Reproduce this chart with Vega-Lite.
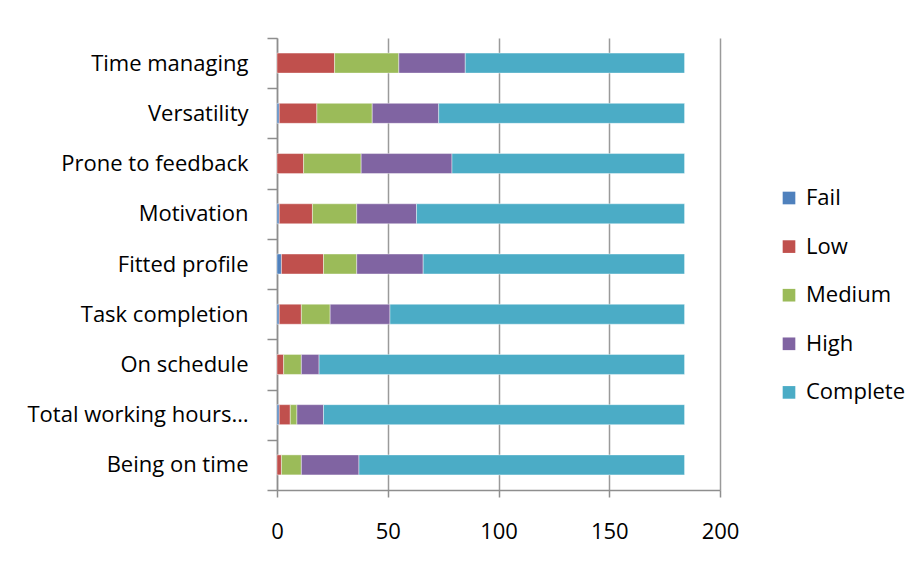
{
  "$schema": "https://vega.github.io/schema/vega-lite/v6.json",
  "width": 443,
  "height": 452,
  "autosize": {"type": "none"},
  "padding": {"left": 277, "top": 38, "right": 203, "bottom": 84},
  "background": "white",
  "data": {
    "values": [
      {"task": "Time managing", "level": "Low", "count": 26},
      {"task": "Time managing", "level": "Medium", "count": 29},
      {"task": "Time managing", "level": "High", "count": 30},
      {"task": "Time managing", "level": "Complete", "count": 99},
      {"task": "Versatility", "level": "Fail", "count": 1},
      {"task": "Versatility", "level": "Low", "count": 17},
      {"task": "Versatility", "level": "Medium", "count": 25},
      {"task": "Versatility", "level": "High", "count": 30},
      {"task": "Versatility", "level": "Complete", "count": 111},
      {"task": "Prone to feedback", "level": "Low", "count": 12},
      {"task": "Prone to feedback", "level": "Medium", "count": 26},
      {"task": "Prone to feedback", "level": "High", "count": 41},
      {"task": "Prone to feedback", "level": "Complete", "count": 105},
      {"task": "Motivation", "level": "Fail", "count": 1},
      {"task": "Motivation", "level": "Low", "count": 15},
      {"task": "Motivation", "level": "Medium", "count": 20},
      {"task": "Motivation", "level": "High", "count": 27},
      {"task": "Motivation", "level": "Complete", "count": 121},
      {"task": "Fitted profile", "level": "Fail", "count": 2},
      {"task": "Fitted profile", "level": "Low", "count": 19},
      {"task": "Fitted profile", "level": "Medium", "count": 15},
      {"task": "Fitted profile", "level": "High", "count": 30},
      {"task": "Fitted profile", "level": "Complete", "count": 118},
      {"task": "Task completion", "level": "Fail", "count": 1},
      {"task": "Task completion", "level": "Low", "count": 10},
      {"task": "Task completion", "level": "Medium", "count": 13},
      {"task": "Task completion", "level": "High", "count": 27},
      {"task": "Task completion", "level": "Complete", "count": 133},
      {"task": "On schedule", "level": "Low", "count": 3},
      {"task": "On schedule", "level": "Medium", "count": 8},
      {"task": "On schedule", "level": "High", "count": 8},
      {"task": "On schedule", "level": "Complete", "count": 165},
      {"task": "Total working hours…", "level": "Fail", "count": 1},
      {"task": "Total working hours…", "level": "Low", "count": 5},
      {"task": "Total working hours…", "level": "Medium", "count": 3},
      {"task": "Total working hours…", "level": "High", "count": 12},
      {"task": "Total working hours…", "level": "Complete", "count": 163},
      {"task": "Being on time", "level": "Low", "count": 2},
      {"task": "Being on time", "level": "Medium", "count": 9},
      {"task": "Being on time", "level": "High", "count": 26},
      {"task": "Being on time", "level": "Complete", "count": 147}
    ]
  },
  "transform": [
    {"calculate": "indexof(['Fail','Low','Medium','High','Complete'], datum.level)", "as": "levelOrder"}
  ],
  "mark": {"type": "bar", "size": 20, "stroke": "white", "strokeWidth": 0.6, "strokeOpacity": 0.7},
  "encoding": {
    "y": {
      "field": "task",
      "type": "nominal",
      "sort": null,
      "title": null,
      "scale": {"paddingInner": 0, "paddingOuter": 0},
      "axis": {
        "tickBand": "extent",
        "tickSize": 10,
        "labelPadding": 19,
        "labelFontSize": 22,
        "labelLimit": 300,
        "grid": false
      }
    },
    "x": {
      "field": "count",
      "type": "quantitative",
      "stack": "zero",
      "title": null,
      "scale": {"domain": [0, 200], "nice": false},
      "axis": {
        "values": [0, 50, 100, 150, 200],
        "grid": true,
        "tickSize": 7,
        "labelPadding": 24,
        "labelFontSize": 22,
        "labelFlush": false
      }
    },
    "color": {
      "field": "level",
      "type": "nominal",
      "scale": {
        "domain": ["Fail", "Low", "Medium", "High", "Complete"],
        "range": ["#4F81BD", "#C0504D", "#9BBB59", "#8064A2", "#4BACC6"]
      },
      "legend": {
        "title": null,
        "orient": "none",
        "legendX": 501,
        "legendY": 149,
        "symbolType": "square",
        "symbolSize": 160,
        "symbolStrokeWidth": 0,
        "symbolOpacity": 1,
        "labelFontSize": 22,
        "labelOffset": 6,
        "rowPadding": 26.6
      }
    },
    "order": {"field": "levelOrder", "type": "quantitative"}
  },
  "config": {
    "font": "Open Sans",
    "view": {"stroke": null},
    "axis": {
      "labelColor": "#000000",
      "labelFont": "Open Sans",
      "domainColor": "#8e8e8e",
      "domainWidth": 1.5,
      "tickColor": "#8e8e8e",
      "tickWidth": 1.5,
      "gridColor": "#9a9a9a",
      "gridWidth": 1.5
    },
    "legend": {"labelColor": "#000000", "labelFont": "Open Sans"}
  }
}
